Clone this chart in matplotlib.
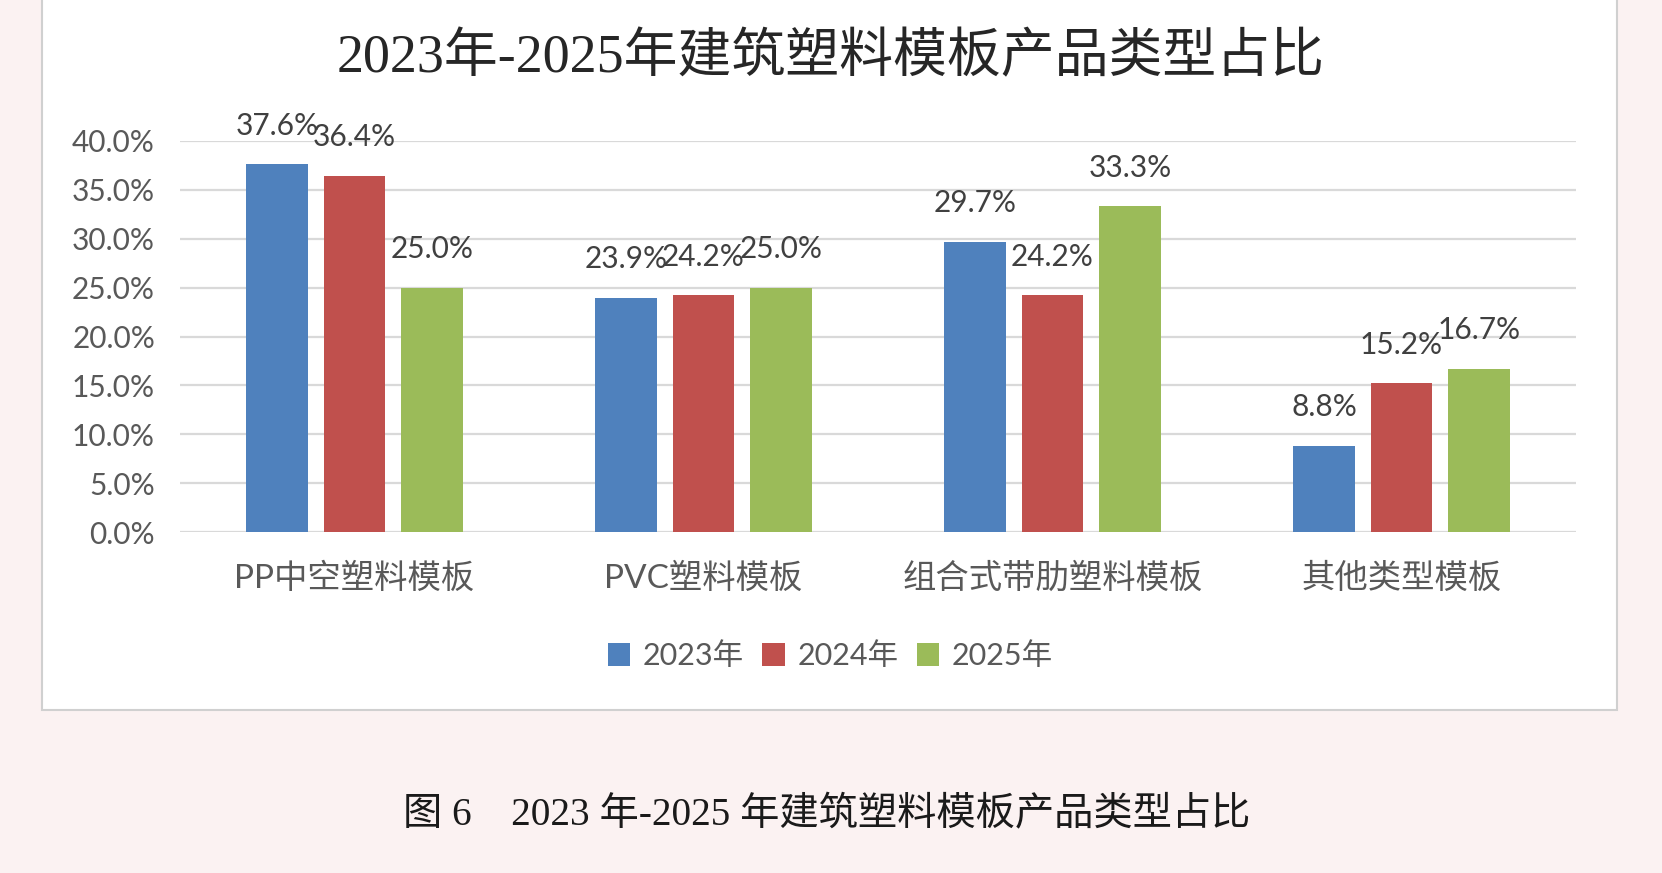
import numpy as np
import matplotlib
matplotlib.use('Agg')
import matplotlib.pyplot as plt
from matplotlib.patches import Rectangle

# ---------------------------------------------------------
# 数据
# ---------------------------------------------------------
categories = ['PP中空塑料模板', 'PVC塑料模板', '组合式带肋塑料模板', '其他类型模板']
years = ['2023年', '2024年', '2025年']
v2023 = [0.376, 0.239, 0.297, 0.088]
v2024 = [0.364, 0.242, 0.242, 0.152]
v2025 = [0.250, 0.250, 0.333, 0.167]
colors = ['#4f81bd', '#c0504d', '#9bbb59']

title = '2023年-2025年建筑塑料模板产品类型占比'
caption = '图 6    2023 年-2025 年建筑塑料模板产品类型占比'

SANS = ['Lato', 'Noto Sans CJK SC', 'DejaVu Sans']
SERIF = ['Liberation Serif', 'Noto Sans CJK SC', 'DejaVu Serif']
plt.rcParams['font.family'] = SANS


def main():
    fig = plt.figure(figsize=(16.62, 8.73), dpi=100)
    fig.patch.set_facecolor('#fbf2f2')

    # 白色图表面板
    panel = Rectangle((42 / 1662, 1 - 710 / 873), (1617 - 42) / 1662, 710 / 873 + 0.01,
                      transform=fig.transFigure, facecolor='white',
                      edgecolor='#d0d0d0', linewidth=1.5, zorder=-5)
    fig.add_artist(panel)

    ax = fig.add_axes([180 / 1662, 1 - 532 / 873, (1576 - 180) / 1662, (532 - 141) / 873])
    ax.set_facecolor('none')
    ax.set_zorder(2)

    x = np.arange(len(categories))
    width = 0.175
    step = 0.222
    series = [v2023, v2024, v2025]
    for i, (vals, name, c) in enumerate(zip(series, years, colors)):
        pos = x + (i - 1) * step
        ax.bar(pos, vals, width=width, color=c, label=name, zorder=3)
        for px, v in zip(pos, vals):
            ax.annotate(f'{v * 100:.1f}%', (px, v), xytext=(0, 28),
                        textcoords='offset points', ha='center', va='center',
                        fontsize=21.5, color='#404040', annotation_clip=False)

    ax.set_xlim(-0.5, len(categories) - 0.5)
    ax.set_ylim(0, 0.40)
    ax.set_yticks(np.arange(0, 0.401, 0.05))
    ax.set_yticklabels([f'{t * 100:.1f}%' for t in np.arange(0, 0.401, 0.05)])
    ax.set_xticks(x)
    ax.set_xticklabels(categories)
    ax.tick_params(axis='y', length=0, pad=18, labelsize=21.5, labelcolor='#595959')
    ax.tick_params(axis='x', length=0, pad=22, labelsize=24, labelcolor='#595959')
    ax.grid(axis='y', color='#d9d9d9', linewidth=1.6, zorder=0)
    for s in ax.spines.values():
        s.set_visible(False)

    fig.text(0.4995, 1 - 59 / 873, title, ha='center', va='center',
             fontsize=38.8, fontweight='medium', color='#262626', family=SERIF)

    fig.legend(loc='center', bbox_to_anchor=(0.4995, 1 - 656 / 873), ncol=3,
               frameon=False, fontsize=22, handlelength=0.75, handleheight=0.75,
               handletextpad=0.4, columnspacing=0.6, labelcolor='#595959')

    fig.text(0.4975, 1 - 816 / 873, caption, ha='center', va='center',
             fontsize=28.3, fontweight='medium', color='#1a1a1a', family=SERIF)

    fig.savefig('out.png', dpi=100, facecolor=fig.get_facecolor())


if __name__ == "__main__":
    main()
